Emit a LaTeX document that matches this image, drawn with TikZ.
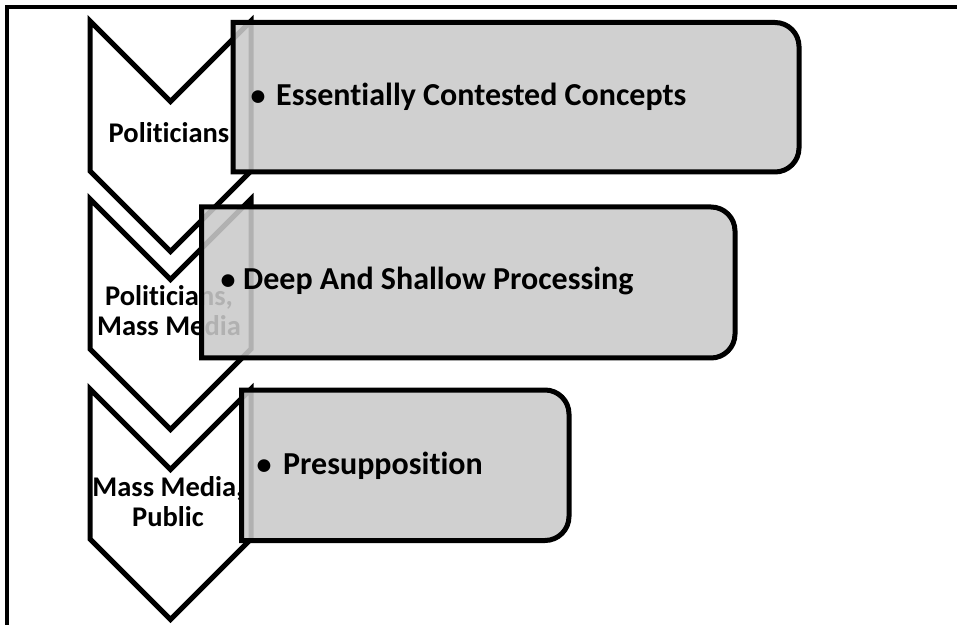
\documentclass[tikz,border=0pt]{standalone}
\usepackage{fontspec}
\setmainfont{Carlito}[RawFeature={-liga}]
\definecolor{boxgray}{RGB}{202,202,202}
\begin{document}
\begin{tikzpicture}[x=1pt,y=1pt,
  chev/.style={draw=black,line width=5pt,fill=white,line join=miter},
  card/.style={draw=black,line width=5pt,fill=boxgray,fill opacity=0.88,draw opacity=1},
  ctext/.style={font=\fontsize{28.5}{30}\selectfont\bfseries,inner sep=0pt,anchor=base},
  btext/.style={font=\fontsize{32}{34}\selectfont\bfseries,inner sep=0pt,anchor=base west},
  bul/.style={font=\fontsize{30}{34}\selectfont\bfseries,inner sep=0pt,anchor=base}]
\useasboundingbox (0,0) rectangle (957,624);
\clip (0,0) rectangle (957,624);
% frame (only top and left edges visible)
\draw[line width=4pt] (7,-10) -- (7,617) -- (970,617);
% chevrons
\draw[chev] (90,603) -- (170.5,522.5) -- (251,603) -- (251,453) -- (170.5,372.5) -- (90,453) -- cycle;
\node[ctext] (t1) at (169,481.5) {Politicians};
\draw[chev] (90,425) -- (170.5,344.5) -- (251,425) -- (251,275) -- (170.5,194.5) -- (90,275) -- cycle;
\node[ctext] (t2a) at (169,318) {Politicians,};
\node[ctext] (t2b) at (169,288) {Mass Media};
\draw[chev] (90,235) -- (170.5,154.5) -- (251,235) -- (251,85) -- (170.5,4.5) -- (90,85) -- cycle;
\node[ctext] (t3a) at (168,128) {Mass Media,};
\node[ctext] (t3b) at (168,98) {Public};
% boxes
\draw[card] (233,601.5) -- (775,601.5) arc[start angle=90,end angle=0,radius=24] -- (799,476) arc[start angle=0,end angle=-90,radius=24] -- (233,452) -- cycle;
\draw[card] (201.5,417) -- (711,417) arc[start angle=90,end angle=0,radius=24] -- (735,290) arc[start angle=0,end angle=-90,radius=24] -- (201.5,266) -- cycle;
\draw[card] (241.5,234) -- (545,234) arc[start angle=90,end angle=0,radius=24] -- (569,107.5) arc[start angle=0,end angle=-90,radius=24] -- (241.5,83.5) -- cycle;
% box texts
\node[bul] (u1) at (258,518) {•};
\node[btext] (e1) at (276,518) {Essentially Contested Concepts};
\node[bul] (u2) at (228,334) {•};
\node[btext] (e2) at (243,334) {Deep And Shallow Processing};
\node[bul] (u3) at (264,150) {•};
\node[btext] (e3) at (283,150) {Presupposition};
\end{tikzpicture}
\end{document}
